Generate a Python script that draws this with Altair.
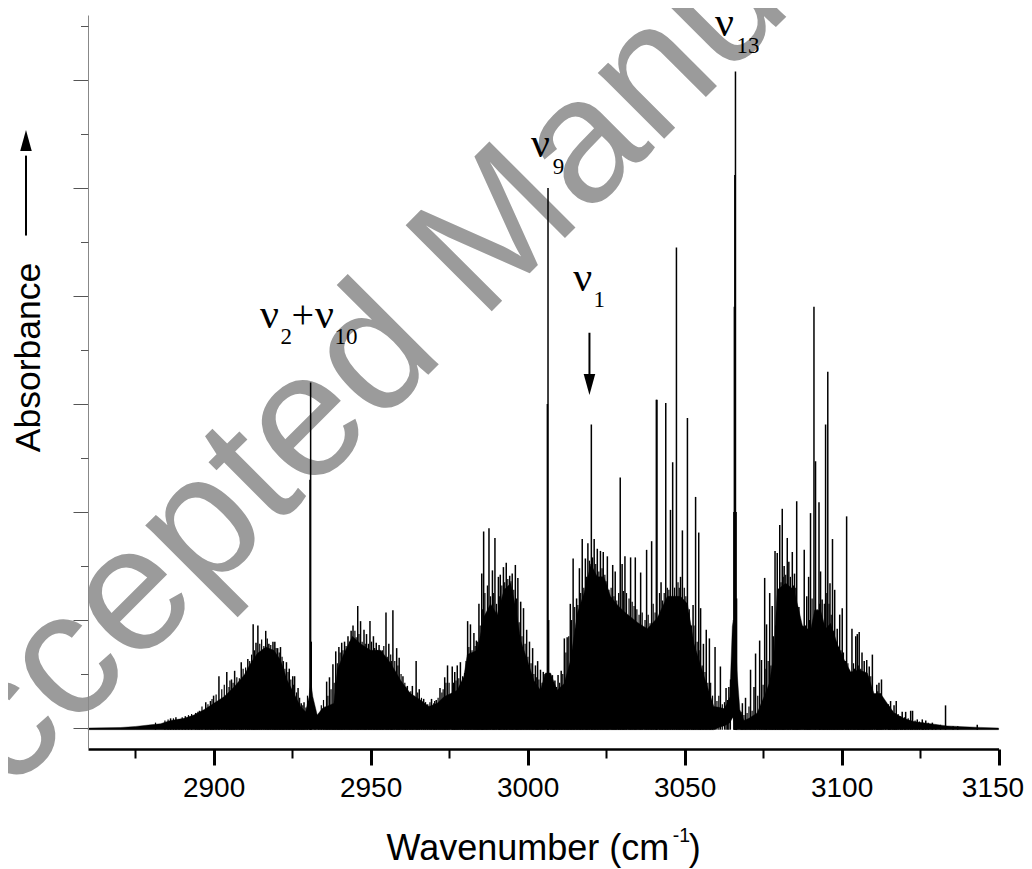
import altair as alt
import pandas as pd

# Solid part of the spectrum: wavenumber / absorbance of the dense envelope
ENV_WN = [2860, 2870.4, 2875.2, 2879.9, 2883.1, 2886.3, 2890.6, 2893.7, 2896.9, 2900.1, 2903.3, 2906.5, 2909.7, 2911.8,
          2913.9, 2916.6, 2919.2, 2921.3, 2923.5, 2925.6, 2927.7, 2929.3, 2930.4, 2930.9, 2931.6, 2933, 2934.6, 2938.3,
          2939.4, 2941.5, 2944.2, 2946.8, 2950, 2953.2, 2956.4, 2959.6, 2962.7, 2965.9, 2968.6, 2971.2, 2973.4, 2975.5,
          2977.6, 2979.7, 2980.8, 2984, 2986.1, 2988.2, 2990.3, 2992.5, 2994.6, 2996.2, 2997.8, 2999.9, 3002, 3004.1,
          3005.7, 3007.3, 3009.4, 3011.6, 3013.7, 3015.8, 3018, 3020.1, 3022.2, 3024.3, 3026.4, 3028.6, 3030.7, 3034.9,
          3038.1, 3041.3, 3044.5, 3048.7, 3050.9, 3053, 3056.2, 3059.3, 3061.3, 3062.5, 3063.4, 3064.4, 3065.2, 3065.5,
          3066.2, 3066.8, 3067.6, 3068.9, 3070.5, 3073.1, 3075.3, 3076.9, 3078.4, 3079.5, 3082.2, 3084.8, 3086.4, 3087.5,
          3090.1, 3091.4, 3093.3, 3094.9, 3096.5, 3098.6, 3100.7, 3102.9, 3105.5, 3108.2, 3110.3, 3112.4, 3114.5, 3116.7,
          3119.8, 3123, 3128.3, 3133.6, 3139, 3144.3, 3150]
ENV_ABS = [0, 0.005, 0.015, 0.03, 0.04, 0.07, 0.09, 0.12, 0.17, 0.23, 0.29, 0.38, 0.49, 0.60,
           0.69, 0.75, 0.72, 0.63, 0.44, 0.32, 0.20, 0.15, 0.29, 0.44, 0.29, 0.12, 0.18, 0.23,
           0.54, 0.69, 0.85, 0.78, 0.72, 0.72, 0.60, 0.44, 0.32, 0.26, 0.20, 0.23, 0.29, 0.32,
           0.35, 0.48, 0.68, 0.72, 1.03, 1.15, 1.05, 1.28, 1.34, 1.12, 0.81, 0.63, 0.44, 0.35,
           0.51, 0.51, 0.35, 0.41, 0.63, 1.06, 1.25, 1.52, 1.40, 1.40, 1.22, 1.14, 1.08, 0.98,
           0.92, 1.02, 1.22, 1.22, 1.15, 0.78, 0.48, 0.20, 0.19, 0.18, 0.22, 0.29, 0.94, 1.0,
           0.78, 0.48, 0.17, 0.07, 0.09, 0.14, 0.29, 0.41, 0.66, 1.28, 1.34, 1.28, 1.09, 0.95,
           0.90, 1.09, 1.09, 0.92, 0.97, 0.78, 0.64, 0.52, 0.54, 0.51, 0.32, 0.32, 0.23, 0.14,
           0.09, 0.06, 0.04, 0.02, 0.012, 0.006, 0]
# The baseline rises just left of the strongest band
LOW_RAISED = {3061.3: 0.01, 3062.5: 0.02, 3063.4: 0.03, 3064.4: 0.05, 3065.2: 0.09, 3065.5: 0.10}
LOW_BASE = -0.015

# Individual rovibrational lines that stand out of the envelope
LINE_WN_A = [2886.3, 2888, 2891, 2894.3, 2895.5, 2897.5, 2899, 2900, 2901.7, 2904.2, 2905.7, 2906.7, 2908.8, 2910.9,
             2912.6, 2913.5, 2914.1, 2916.6, 2917.6, 2918.9, 2919.5, 2920.4, 2921.3, 2922.2, 2923.2, 2924.1, 2925.2,
             2925.8, 2926.9, 2927.9, 2928.8, 2930.7, 2930.9, 2931.1, 2936, 2936.9, 2938, 2938.9, 2939.9, 2940.8, 2941.7,
             2942.8, 2943.8, 2944.4, 2945.9, 2946.8, 2947.9, 2948.7, 2949.8, 2950.9, 2951.8, 2952.7, 2953.7, 2954.9,
             2955.8, 2957.1, 2958.3, 2959.1, 2960.3, 2961.7, 2963.3, 2964.5, 2965.5, 2966.9, 2969.4, 2970.9, 2972.1,
             2973.6, 2974.5]
LINE_ABS_A = [0.09, 0.10, 0.11, 0.14, 0.16, 0.24, 0.25, 0.30, 0.48, 0.52, 0.45, 0.53, 0.61, 0.64,
              0.96, 0.79, 0.95, 0.90, 0.78, 0.80, 0.80, 0.74, 0.75, 0.62, 0.61, 0.55, 0.48,
              0.48, 0.37, 0.23, 0.24, 2.3, 3.2, 0.8, 0.43, 0.47, 0.59, 0.71, 0.75, 0.79, 0.80,
              0.85, 0.90, 0.95, 1.13, 0.99, 0.91, 0.87, 0.99, 0.85, 0.79, 0.77, 0.72, 1.07,
              0.78, 1.09, 0.74, 0.65, 0.48, 0.39, 0.39, 0.62, 0.36, 0.27, 0.27, 0.26, 0.37,
              0.47, 0.58]
LINE_WN_B = [2976, 2976.8, 2977.6, 2978.6, 2980, 2980.9, 2981.8, 2982.9, 2983.7, 2984.5, 2985.4, 2986, 2986.8, 2987.7,
             2988.8, 2989.6, 2990.7, 2991.3, 2992.3, 2993.2, 2994.3, 2995.1, 2996.1, 2996.9, 2997.8, 2998.7, 2999.7,
             3000.6, 3001.6, 3002.5, 3003.2, 3004.1, 3005, 3006.3, 3006.5, 3006.7, 3007.9, 3008.7, 3009.7, 3010.7, 3011.7,
             3012.6, 3013.6, 3014.5, 3015.6, 3016.5, 3017.4, 3018.4, 3019.2, 3020.3, 3021.2, 3022.2, 3023.2, 3024.1,
             3025.4, 3027.1, 3027.9, 3029.5, 3030.1, 3031, 3032.8, 3034.3, 3036, 3037.9, 3039.5, 3041, 3041.2, 3042.5,
             3044, 3045.5, 3046.2, 3047.4, 3048.7, 3049.3, 3050.9, 3052.7, 3053.5, 3054.5, 3055.1, 3056, 3056.9, 3057.9,
             3059.7, 3061.4, 3063.2, 3064.1]
LINE_ABS_B = [0.57, 0.52, 0.58, 0.61, 0.51, 0.99, 0.96, 0.88, 0.81, 1.15, 1.43, 1.82, 1.05, 1.85,
              1.46, 1.76, 1.40, 1.42, 1.49, 1.53, 1.41, 1.43, 1.51, 1.39, 1.17, 1.11, 0.91,
              0.80, 0.74, 0.58, 0.62, 0.54, 0.52, 3.0, 5.0, 1.0, 0.49, 0.44, 0.49, 0.53, 0.83,
              0.84, 1.15, 1.57, 1.20, 1.48, 1.75, 1.57, 1.71, 2.81, 1.75, 1.66, 1.64, 1.63,
              1.59, 1.51, 1.45, 2.32, 1.52, 1.59, 1.58, 1.58, 1.44, 1.65, 1.73, 3.04, 3.04, 1.35,
              3.01, 2.02, 2.46, 4.45, 1.40, 1.83, 2.87, 1.14, 2.14, 1.81, 1.11, 0.78, 0.91, 0.83,
              0.75, 0.57, 0.37, 0.38]
LINE_WN_C = [3065.7, 3065.85, 3066, 3066.2, 3066.4, 3066.55, 3068.4, 3069.4, 3071, 3072.1, 3072.6, 3073.9, 3074.5, 3075.5, 3076.1, 3077.1,
             3077.9, 3078.8, 3079.5, 3080.3, 3081.1, 3081.7, 3082.7, 3083.2, 3084.3, 3085, 3085.7, 3086.4, 3088.1,
             3088.9, 3089.5, 3090.1, 3091.2, 3091.7, 3092.8, 3093.3, 3093.8, 3094.9, 3095.6, 3096.3, 3097.1, 3097.8,
             3098.6, 3099.4, 3100.2, 3101.6, 3102.3, 3103.3, 3104.5, 3105, 3105.6, 3106.5, 3107.2, 3108, 3108.8, 3109.8,
             3111.2, 3111.9, 3112.7, 3115.6, 3116.7, 3117.4, 3119.3, 3120.4, 3122, 3122.6, 3124.1, 3125.7, 3126.8,
             3128.9, 3133.1, 3143.2]
LINE_ABS_C = [2.0, 3.9, 5.12, 6.08, 2.0, 1.2, 0.23, 0.28, 0.54, 0.38, 0.69, 0.81, 0.63, 1.39, 0.96, 1.25,
              1.13, 1.64, 1.62, 1.88, 2.03, 1.50, 1.76, 1.54, 1.63, 1.43, 2.10, 1.12, 1.65,
              1.22, 1.40, 1.99, 3.90, 2.47, 2.09, 1.45, 1.19, 2.81, 3.30, 1.34, 1.75, 1.28,
              0.92, 1.05, 1.11, 1.96, 0.54, 0.92, 0.85, 0.87, 0.89, 0.70, 0.62, 0.63, 0.57, 0.68,
              0.40, 0.42, 0.45, 0.25, 0.21, 0.25, 0.15, 0.15, 0.16, 0.16, 0.08, 0.08, 0.07,
              0.05, 0.21, 0.03]

# Shorter lines between the tall ones, which give the envelope its jagged top
HAIR_WN = [2881.5, 2884.5, 2885.5, 2887.2, 2889, 2890, 2892, 2893, 2895, 2896.3, 2898.2, 2899.5, 2900.8, 2902.6, 2903.4,
           2904.9, 2905.2, 2906.2, 2907.4, 2908.2, 2909.4, 2910.2, 2911.5, 2912.1, 2913, 2914.7, 2915.3, 2916, 2917.1,
           2918.2, 2919.9, 2920.9, 2921.8, 2922.7, 2923.7, 2924.6, 2925.5, 2926.4, 2927.4, 2928.4, 2929.4, 2929.9,
           2932.3, 2933.5, 2934.3, 2935, 2935.5, 2936.4, 2937.4, 2938.4, 2939.4, 2940.3, 2941.2, 2942.2, 2943.3, 2945,
           2945.4, 2946.3, 2947.3, 2948.3, 2949.3, 2950.3, 2951.3, 2952.2, 2953.2, 2954.2, 2955.3, 2956.4, 2956.7,
           2957.7, 2958.7, 2959.7, 2960.9, 2961.2, 2962.3, 2962.8, 2963.8, 2965, 2966.2, 2967.5, 2968.2, 2968.9, 2970.1,
           2970.4, 2971.5, 2972.7, 2973.1, 2974, 2975,
           2976.4, 2977.2, 2978.1, 2979.3, 2980.4, 2981.3, 2982.3, 2983.3, 2984.1, 2984.9, 2985.7, 2986.4, 2987.2, 2988.2,
           2989.2, 2990.1, 2991, 2991.8, 2992.7, 2993.7, 2994.7, 2995.6, 2996.5, 2997.3, 2998.2, 2999.2, 3000.1, 3001.1,
           3002, 3002.9, 3003.6, 3004.6, 3005.5,
           3007.4, 3008.3, 3009.2, 3010.2, 3011.2, 3012.2, 3013.1, 3014, 3015, 3016, 3016.9, 3017.9, 3018.8, 3019.7, 3020.7,
           3021.7, 3022.7, 3023.7, 3024.6, 3025, 3025.9, 3026.6, 3027.5, 3028.4, 3029, 3030.5, 3031.5, 3032.3, 3033.3,
           3033.9, 3034.8, 3035.5, 3036.5, 3037.4, 3038.4, 3039, 3040, 3040.6, 3042, 3043, 3043.5, 3044.5, 3045, 3046.8,
           3047.9, 3048.3, 3049.9, 3050.4, 3051.5, 3052.2, 3053, 3054, 3054.9, 3055.6, 3056.5, 3057.4, 3058.3, 3058.9,
           3060.3, 3060.9, 3062, 3062.7, 3063.7, 3064.6,
           3068, 3068.9, 3069.9, 3070.5, 3071.5, 3073.3, 3075, 3075.9, 3076.6, 3077.5, 3078.3, 3079, 3079.9, 3080.7, 3081.4,
           3082.2, 3083.7, 3084.7, 3085.4, 3086, 3086.8, 3087.4, 3088.5, 3089.2, 3089.8, 3090.6, 3092.2, 3093, 3094.2,
           3094.5, 3095.3, 3096, 3096.7, 3097.5, 3098.2, 3099, 3099.8, 3100.6, 3101.2, 3102, 3102.8, 3103.8, 3104.1,
           3105.3, 3106.1, 3106.9, 3107.6, 3108.4, 3109.3, 3110.5, 3111.5, 3112.3, 3113.2, 3114, 3114.9, 3115.2, 3116.2,
           3117, 3118, 3118.8, 3120, 3121.2, 3123.4, 3124.8, 3126, 3127.6, 3130, 3131.5, 3135.5, 3137]
HAIR_ABS = [0.05, 0.07, 0.08, 0.09, 0.08, 0.10, 0.12, 0.13, 0.15, 0.20, 0.22, 0.27, 0.31, 0.36, 0.40,
            0.38, 0.44, 0.42, 0.47, 0.46, 0.55, 0.56, 0.62, 0.68, 0.72, 0.78, 0.82, 0.76, 0.83,
            0.77, 0.74, 0.70, 0.66, 0.55, 0.52, 0.45, 0.40, 0.33, 0.28, 0.21, 0.19, 0.30,
            0.15, 0.13, 0.21, 0.26, 0.20, 0.30, 0.36, 0.42, 0.60, 0.70, 0.72, 0.76, 0.80, 0.90,
            0.84, 0.87, 0.80, 0.78, 0.78, 0.80, 0.74, 0.72, 0.70, 0.76, 0.66, 0.68, 0.62,
            0.62, 0.58, 0.50, 0.42, 0.38, 0.33, 0.34, 0.30, 0.33, 0.28, 0.24, 0.22, 0.24, 0.23,
            0.25, 0.28, 0.33, 0.36, 0.42, 0.42,
            0.42, 0.44, 0.46, 0.48, 0.62, 0.75, 0.72, 0.76, 0.80, 0.95, 1.10, 1.25, 1.32, 1.22,
            1.25, 1.15, 1.22, 1.32, 1.35, 1.38, 1.36, 1.28, 1.20, 0.98, 0.85, 0.78, 0.66, 0.60,
            0.50, 0.47, 0.45, 0.42, 0.50,
            0.46, 0.40, 0.38, 0.42, 0.50, 0.70, 0.85, 1.0, 1.12, 1.14, 1.25, 1.30, 1.40, 1.55, 1.58,
            1.52, 1.45, 1.48, 1.42, 1.36, 1.28, 1.30, 1.22, 1.18, 1.25, 1.27, 1.25, 1.20, 1.17,
            1.13, 1.10, 1.05, 1.07, 1.0, 1.05, 0.97, 1.15, 1.07, 1.25, 1.18, 1.25, 1.30, 1.28, 1.30,
            1.35, 1.30, 1.30, 1.22, 1.10, 0.95, 0.95, 0.80, 0.72, 0.58, 0.52, 0.42, 0.42, 0.30,
            0.25, 0.30, 0.22, 0.24, 0.26, 0.45,
            0.15, 0.12, 0.14, 0.20, 0.16, 0.30, 0.40, 0.55, 0.62, 0.58, 0.85, 0.95, 1.25, 1.35, 1.40,
            1.42, 1.40, 1.32, 1.30, 1.00, 0.95, 0.88, 0.95, 0.85, 1.0, 1.20, 1.10, 1.15, 0.85,
            1.15, 1.25, 1.15, 1.05, 0.90, 0.80, 0.75, 0.72, 0.70, 0.62, 0.60, 0.50, 0.60, 0.55,
            0.58, 0.55, 0.50, 0.50, 0.48, 0.48, 0.30, 0.34, 0.32, 0.26, 0.24, 0.22, 0.20, 0.16,
            0.14, 0.13, 0.11, 0.10, 0.09, 0.07, 0.06, 0.05, 0.05, 0.03, 0.03, 0.02, 0.02]

# Axis ticks
X_MAJOR = [2900, 2950, 3000, 3050, 3100, 3150]
X_MINOR = [2875, 2925, 2975, 3025, 3075, 3125]
Y_MAJOR = [0, 1, 2, 3, 4, 5, 6]
Y_MINOR = [0.5, 1.5, 2.5, 3.5, 4.5, 5.5, 6.5]

# Band labels
BAND_TEXT = ["ν", "ν", "ν", "ν", "ν"]
BAND_WN = [2914.8, 2932.3, 3001.1, 3014.5, 3059.7]
BAND_ABS = [3.70, 3.70, 5.29, 4.05, 6.41]
PLUS_TEXT = ["+"]
PLUS_WN = [2924.8]
PLUS_ABS = [3.70]
SUB_TEXT = ["2", "10", "9", "1", "13"]
SUB_WN = [2921.3, 2938.5, 3008, 3021.0, 3066.5]
SUB_ABS = [3.56, 3.56, 5.13, 3.90, 6.25]

# Arrows
ARROW_DOWN = {"wn": 3019.7, "tail": 3.66, "neck": 3.2, "tip": 3.18}
ARROW_UP = {"wn": 2840.25, "tail": 4.56, "neck": 5.3, "tip": 5.44}

WATERMARK = "Accepted Manuscript"
X_TITLE = "Wavenumber (cm"
X_TITLE_SUP = "-1"
X_TITLE_END = ")"
Y_TITLE = "Absorbance"

SANS = "Liberation Sans"
SERIF = "Liberation Serif"

xscale = alt.Scale(domain=[2860, 3150], nice=False, zero=False)
yscale = alt.Scale(domain=[-0.194, 6.602], nice=False, zero=False)

env = pd.DataFrame({"wn": ENV_WN, "a": ENV_ABS})
env["low"] = [LOW_RAISED.get(w, LOW_BASE) for w in ENV_WN]
lines = pd.DataFrame({"wn": LINE_WN_A + LINE_WN_B + LINE_WN_C,
                      "a": LINE_ABS_A + LINE_ABS_B + LINE_ABS_C})
lines["low"] = LOW_BASE
hair = pd.DataFrame({"wn": HAIR_WN, "a": HAIR_ABS})
hair["low"] = LOW_BASE

X0 = alt.X("wn:Q", scale=xscale, axis=None)
Y0 = alt.Y("a:Q", scale=yscale, axis=None)

watermark = alt.Chart(pd.DataFrame({"t": [WATERMARK]})).mark_text(
    font=SANS, fontSize=177, color="#9b9b9b", angle=315, align="left", baseline="alphabetic"
).encode(text="t:N", x=alt.value(-163), y=alt.value(863))

# major axes live on the envelope layer
area = alt.Chart(env).mark_area(color="black", stroke="black", strokeWidth=0.4).encode(
    x=alt.X("wn:Q", scale=xscale, title=None, axis=alt.Axis(
        orient="bottom", values=X_MAJOR, grid=False, format="d", title=None, zindex=1,
        domainColor="black", domainWidth=2.5, tickColor="black", tickWidth=3, tickSize=16,
        labelFont=SANS, labelFontSize=28, labelColor="black", labelPadding=9, labelFlush=1, labelFlushOffset=25,
        labelOverlap=False)),
    y=alt.Y("a:Q", scale=yscale, axis=alt.Axis(
        orient="left", values=Y_MAJOR, grid=False, labels=False, zindex=1,
        domainColor="#888888", domainWidth=1, tickColor="#555555", tickWidth=1, tickSize=15,
        title=Y_TITLE, titleFont=SANS, titleFontSize=35.5, titleFontWeight="normal", titleColor="black",
        titleAngle=270, titleAlign="center", titleBaseline="alphabetic", titleX=-49, titleY=342)),
    y2="low:Q",
)

# minor axes live on an invisible layer
minor = alt.Chart(lines).mark_rule(opacity=0).encode(
    x=alt.X("wn:Q", scale=xscale, axis=alt.Axis(
        orient="bottom", values=X_MINOR, grid=False, labels=False, domain=False, title=None, zindex=1,
        tickColor="black", tickWidth=2, tickSize=9)),
    y=alt.Y("a:Q", scale=yscale, axis=alt.Axis(
        orient="left", values=Y_MINOR, grid=False, labels=False, domain=False, title=None, zindex=1,
        tickColor="#555555", tickWidth=1, tickSize=7.5)),
)

sticks = alt.Chart(lines).mark_rule(color="black", strokeWidth=1.5).encode(x=X0, y=Y0, y2="low:Q")
hairs = alt.Chart(hair).mark_rule(color="black", strokeWidth=1.2).encode(x=X0, y=Y0, y2="low:Q")

bands = alt.Chart(pd.DataFrame({"t": BAND_TEXT, "wn": BAND_WN, "a": BAND_ABS})).mark_text(
    font=SERIF, fontSize=42, color="black", align="left", baseline="alphabetic"
).encode(text="t:N", x=X0, y=Y0)
plus = alt.Chart(pd.DataFrame({"t": PLUS_TEXT, "wn": PLUS_WN, "a": PLUS_ABS})).mark_text(
    font=SERIF, fontSize=40, color="black", align="left", baseline="alphabetic"
).encode(text="t:N", x=X0, y=Y0)
subs = alt.Chart(pd.DataFrame({"t": SUB_TEXT, "wn": SUB_WN, "a": SUB_ABS})).mark_text(
    font=SERIF, fontSize=23, color="black", align="left", baseline="alphabetic"
).encode(text="t:N", x=X0, y=Y0)

title_a = alt.Chart(pd.DataFrame({"t": [X_TITLE, X_TITLE_END], "wn": [2955.1, 3051.3], "a": [-1.22, -1.22]})).mark_text(
    font=SANS, fontSize=36, color="black", align="left", baseline="alphabetic"
).encode(text="t:N", x=X0, y=Y0)
title_b = alt.Chart(pd.DataFrame({"t": [X_TITLE_SUP], "wn": [3046.2], "a": [-1.056]})).mark_text(
    font=SANS, fontSize=19.5, color="black", align="left", baseline="alphabetic"
).encode(text="t:N", x=X0, y=Y0)

arrows = pd.DataFrame({"wn": [ARROW_DOWN["wn"], ARROW_UP["wn"]],
                       "a": [ARROW_DOWN["tail"], ARROW_UP["tail"]],
                       "neck": [ARROW_DOWN["neck"], ARROW_UP["neck"]]})
shafts = alt.Chart(arrows).mark_rule(color="black", strokeWidth=2).encode(x=X0, y=Y0, y2="neck:Q")
head_down = alt.Chart(pd.DataFrame({"wn": [ARROW_DOWN["wn"]], "a": [ARROW_DOWN["tip"]]})).mark_point(
    shape="M-0.55,-1L0.55,-1L0,1Z", filled=True, opacity=1, color="black", size=441, strokeWidth=0
).encode(x=X0, y=Y0)
head_up = alt.Chart(pd.DataFrame({"wn": [ARROW_UP["wn"]], "a": [ARROW_UP["tip"]]})).mark_point(
    shape="M-0.55,1L0.55,1L0,-1Z", filled=True, opacity=1, color="black", size=441, strokeWidth=0
).encode(x=X0, y=Y0)

chart = alt.layer(
    watermark, area, minor, hairs, sticks, bands, plus, subs, title_a, title_b, shafts, head_down, head_up
).resolve_axis(x="independent", y="independent").properties(
    width=910.6, height=734,
    autosize=alt.AutoSizeParams(type="none"),
    padding={"left": 80, "top": 7, "right": 25.4, "bottom": 120},
    background="white",
).configure_view(stroke=None)

chart.save("out.html", embed_options={"renderer": "svg", "actions": False})
